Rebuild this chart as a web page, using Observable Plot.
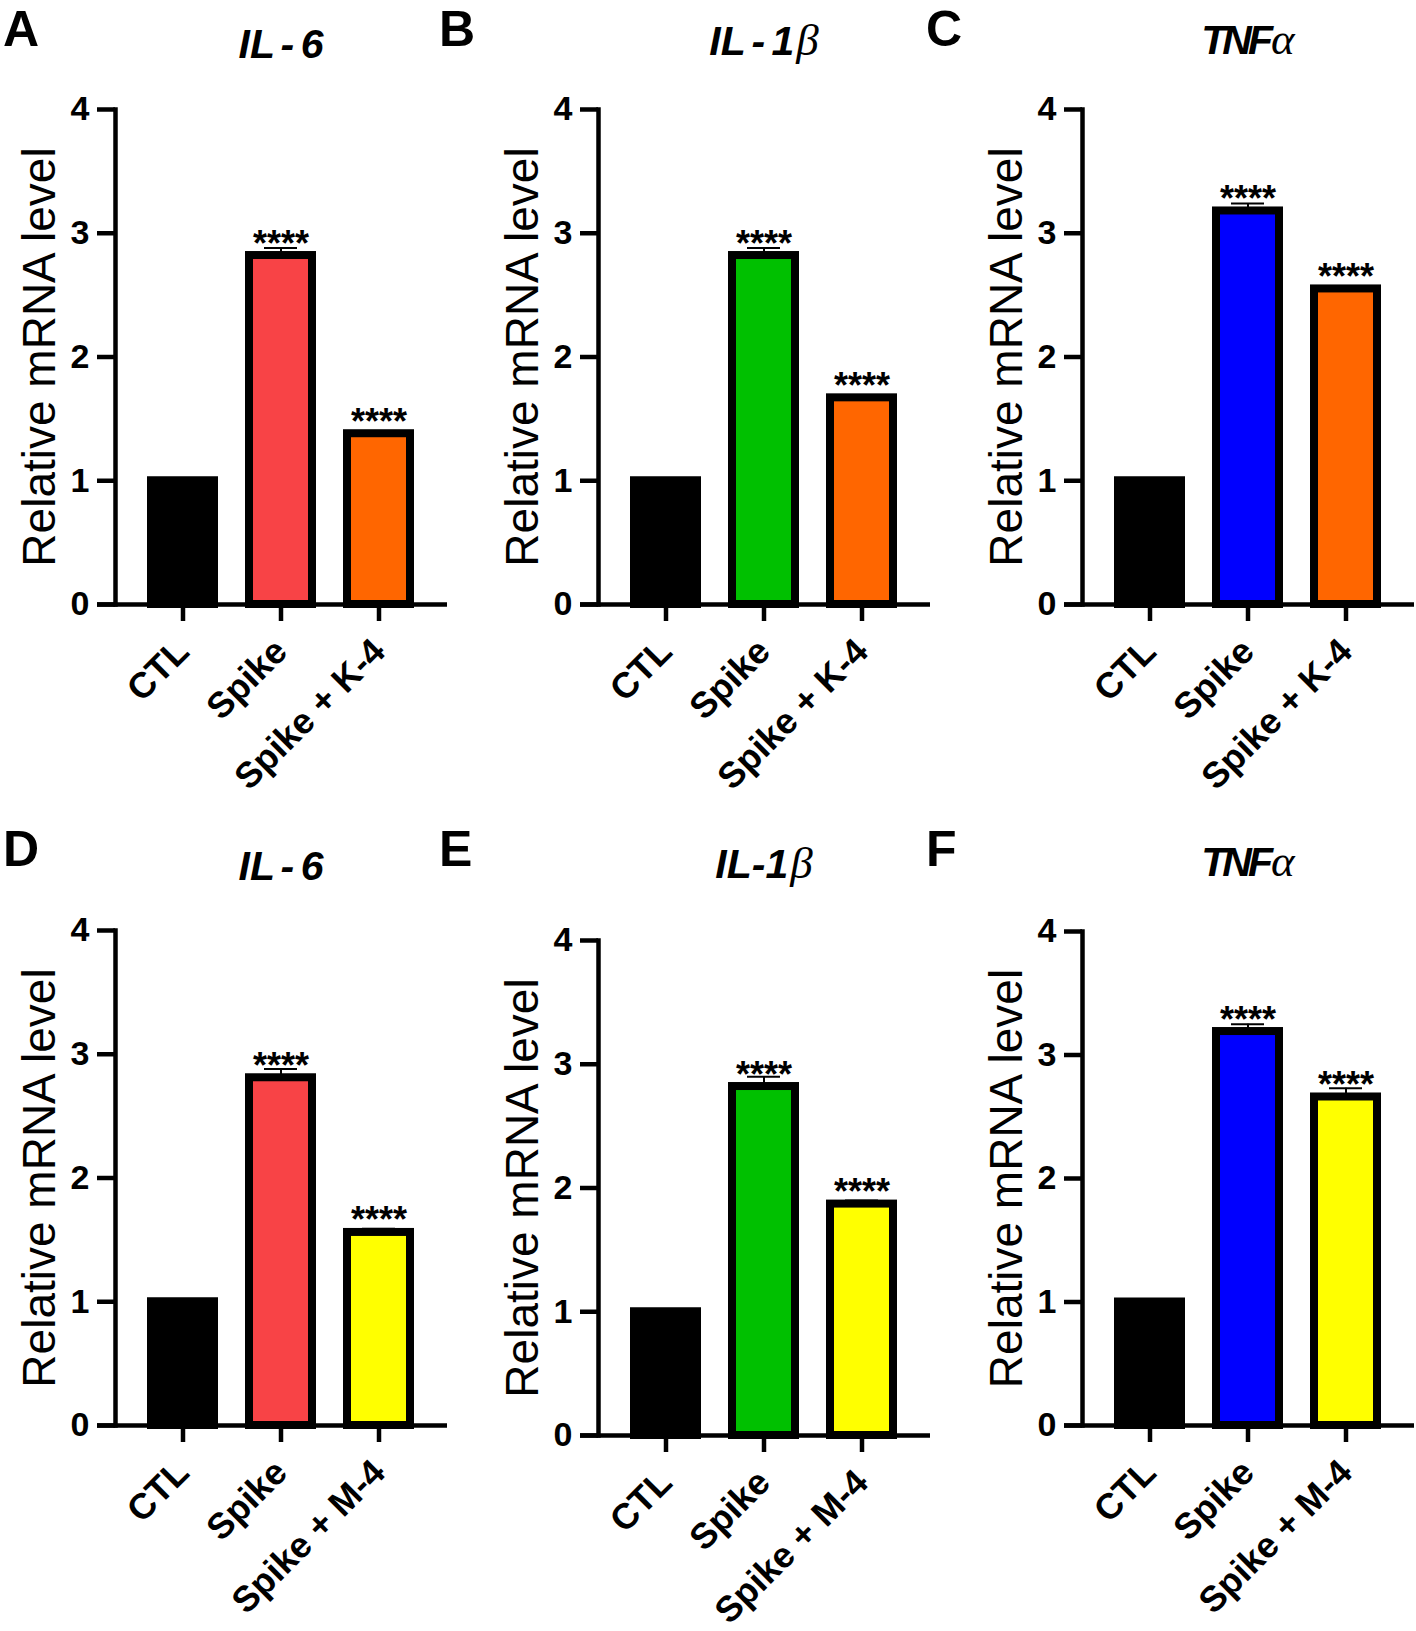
<!DOCTYPE html>
<html><head><meta charset="utf-8">
<script src="https://cdn.jsdelivr.net/npm/d3@7"></script>
<script src="https://cdn.jsdelivr.net/npm/@observablehq/plot@0.6"></script>
<style>
body{margin:0;background:#fff;}
#fig{position:relative;width:1416px;height:1631px;overflow:hidden;background:#fff;font-family:"Liberation Sans",Arial,sans-serif;}
.panel{position:absolute;}
#overlay{position:absolute;left:0;top:0;}
#fig g[aria-label="y-axis tick label"] text, #fig g[aria-label="x-axis tick label"] text {font-weight:bold;}
</style></head><body><div id="fig"></div>
<script>
// ---- data ----
const panelLetters = ["A", "B", "C", "D", "E", "F"];
const panelTitles = ["IL - 6", "IL - 1β", "TNFα", "IL - 6", "IL-1β", "TNFα"];
const categoriesK = ["CTL", "Spike", "Spike + K-4"];
const categoriesM = ["CTL", "Spike", "Spike + M-4"];
const yTicks = [0, 1, 2, 3, 4];
const yLabel = "Relative mRNA level";

const valuesA = [1.00, 2.82, 1.38];
const valuesB = [1.00, 2.82, 1.67];
const valuesC = [1.00, 3.18, 2.55];
const valuesD = [1.00, 2.81, 1.56];
const valuesE = [1.00, 2.82, 1.87];
const valuesF = [1.00, 3.19, 2.66];

const errorsA = [0, 0.06, 0.02];
const errorsB = [0, 0.06, 0.02];
const errorsC = [0, 0.06, 0.02];
const errorsD = [0, 0.07, 0.03];
const errorsE = [0, 0.08, 0.03];
const errorsF = [0, 0.06, 0.07];

const significance = ["", "****", "****"];

const colorsA = ["#000000", "#F84346", "#FF6600"];
const colorsB = ["#000000", "#00C000", "#FF6600"];
const colorsC = ["#000000", "#0000FF", "#FF6600"];
const colorsD = ["#000000", "#F84346", "#FFFF00"];
const colorsE = ["#000000", "#00C000", "#FFFF00"];
const colorsF = ["#000000", "#0000FF", "#FFFF00"];

// ---- layout (page pixels) ----
const layout = [
  {x0: 115, yTop: 109, yBot: 604, letterX: 3, letterY: 46, titleY: 58},
  {x0: 598, yTop: 109, yBot: 604, letterX: 439, letterY: 46, titleY: 55},
  {x0: 1082, yTop: 109, yBot: 604, letterX: 926, letterY: 46, titleY: 54},
  {x0: 115, yTop: 930, yBot: 1425, letterX: 3, letterY: 866, titleY: 880},
  {x0: 598, yTop: 940, yBot: 1435, letterX: 439, letterY: 866, titleY: 878},
  {x0: 1082, yTop: 931, yBot: 1425, letterX: 926, letterY: 866, titleY: 876}
];

const panelsData = [
  [categoriesK, valuesA, errorsA, colorsA],
  [categoriesK, valuesB, errorsB, colorsB],
  [categoriesK, valuesC, errorsC, colorsC],
  [categoriesM, valuesD, errorsD, colorsD],
  [categoriesM, valuesE, errorsE, colorsE],
  [categoriesM, valuesF, errorsF, colorsF]
];

const fig = document.getElementById("fig");
const mL = 115, mT = 24, mR = 25, mB = 210, fw = 332;
const FONT = "Liberation Sans, Arial, sans-serif";

panelsData.forEach(([cats, vals, errs, cols], i) => {
  const L = layout[i];
  const fh = L.yBot - L.yTop;
  const rows = cats.map((c, j) => ({cat: c, value: vals[j], top: vals[j] + errs[j], color: cols[j], sig: significance[j]}));
  const chart = Plot.plot({
    width: mL + fw + mR,
    height: mT + fh + mB,
    marginLeft: mL, marginTop: mT, marginRight: mR, marginBottom: mB,
    x: {domain: cats, padding: 0.354},
    y: {domain: [0, 4]},
    color: {type: "identity"},
    style: {fontFamily: FONT, background: "transparent", overflow: "visible", color: "black"},
    marks: [
      Plot.ruleX(rows, {x: "cat", y1: "value", y2: "top", stroke: "black", strokeWidth: 2}),
      Plot.tickY(rows, {x: "cat", y: "top", stroke: "black", strokeWidth: 2, inset: 15}),
      Plot.barY(rows, {x: "cat", y: "value", fill: "color", stroke: "black", strokeWidth: 8}),
      Plot.frame({anchor: "left", stroke: "black", strokeWidth: 4.5}),
      Plot.ruleY([0], {stroke: "black", strokeWidth: 4.5, insetLeft: -18}),
      Plot.axisY({ticks: yTicks, tickFormat: d => String(d), tickSize: 18, tickPadding: 8, fontSize: 34, fontWeight: "bold", strokeWidth: 4.5, label: null}),
      Plot.axisX({tickSize: 17, tickPadding: 24, tickRotate: -45, fontSize: 36, fontWeight: "bold", strokeWidth: 4.5, label: null}),
      Plot.text([yLabel], {text: d => d, frameAnchor: "left", rotate: -90, dx: -61, fontSize: 46, lineAnchor: "bottom", textAnchor: "middle"}),
      Plot.text(rows.filter(d => d.sig), {x: "cat", y: "value", text: "sig", dy: 0, lineAnchor: "bottom", fontSize: 36, fontWeight: "bold", fontFamily: FONT})
    ]
  });
  const div = document.createElement("div");
  div.className = "panel";
  div.style.left = (L.x0 - mL) + "px";
  div.style.top = (L.yTop - mT) + "px";
  div.style.width = (mL + fw + mR) + "px";
  div.appendChild(chart);
  fig.appendChild(div);
});

// overlay: panel letters and titles
const svg = d3.select("#fig").append("svg").attr("id", "overlay").attr("width", 1416).attr("height", 1631);
layout.forEach((L, i) => {
  svg.append("text").attr("x", L.letterX).attr("y", L.letterY)
    .attr("font-family", FONT).attr("font-weight", "bold").attr("font-size", 50).text(panelLetters[i]);
  const t = svg.append("text").attr("x", L.x0 + fw / 2).attr("y", L.titleY).attr("text-anchor", "middle")
    .attr("font-family", FONT).attr("font-weight", "bold").attr("font-style", "italic").attr("font-size", 41)
    .attr("word-spacing", -5);
  const title = panelTitles[i];
  const m = title.match(/^(.*?)([αβ]?)$/);
  const latin = m[1], greek = m[2];
  const ts = t.append("tspan").text(latin);
  if (latin === "TNF") ts.attr("letter-spacing", -4);
  if (greek) t.append("tspan").attr("font-family", "Liberation Serif, serif").attr("font-weight", "normal")
    .attr("font-size", 45).attr("dx", 2).text(greek);
});
</script>
</body></html>
